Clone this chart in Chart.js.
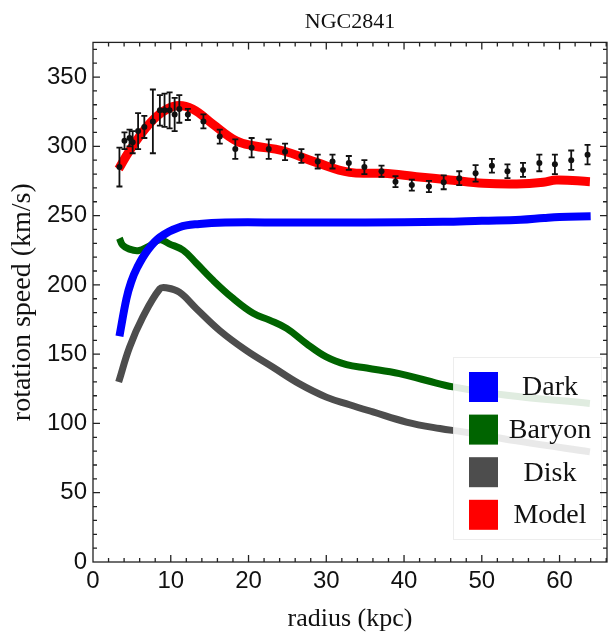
<!DOCTYPE html>
<html>
<head>
<meta charset="utf-8">
<title>NGC2841</title>
<script src="https://cdn.jsdelivr.net/npm/chart.js@4.4.1/dist/chart.umd.min.js"></script>
<style>
    html, body { margin: 0; padding: 0; background: #ffffff; }
    canvas { display: block; }
</style>
</head>
<body>
<canvas id="rotation_chart" width="613" height="635"></canvas>
<script>
// observed rotation speeds with error bars
var point_r = [3.4, 4.05, 4.7, 5.1, 5.8, 6.6, 7.7, 8.6, 9.2, 9.85, 10.5, 11.1, 12.2, 14.2, 16.3, 18.3, 20.4, 22.6, 24.7, 26.8, 28.9, 30.8, 32.9, 34.9, 37.1, 38.9, 41.0, 43.2, 45.1, 47.1, 49.2, 51.3, 53.3, 55.3, 57.4, 59.4, 61.5, 63.6];
var point_v = [285, 304, 306, 303, 311, 314, 318, 326, 326, 326, 323, 327, 323, 318, 307, 298, 299, 298, 296, 293, 289, 289, 288, 285, 282, 274.5, 272, 271, 274, 277, 280.5, 286, 282, 283, 288, 287, 290, 294];
var point_err = [14, 6, 6, 8, 13, 8, 23, 11, 12, 13, 12, 10, 4, 5, 5, 7, 7, 7, 6, 5, 5, 5, 5, 5, 4, 4, 4, 4, 5, 5, 6, 5, 5, 5, 6, 7, 7, 7];

// model curves
var dark_r = [3.4, 4.3, 4.9, 5.7, 7.0, 8.6, 11.1, 13.7, 17, 25, 35, 45, 50, 55, 58, 60, 64];
var dark_v = [163, 190, 202, 212.7, 224.8, 234.4, 241.6, 244, 245, 245, 245, 245.5, 246.3, 247, 248.3, 249, 249.5];

var baryon_r = [3.4, 3.8, 4.6, 5.8, 7.1, 8.6, 9.8, 11.6, 13.3, 15.4, 18.0, 20.6, 22.7, 24.9, 27.4, 30.0, 32.6, 35.2, 39.4, 42.9, 46.3, 53.2, 63.9];
var baryon_v = [233.7, 228.8, 226, 224.7, 227.6, 232.5, 229.6, 225, 215.6, 203.5, 190.3, 179.5, 174.6, 168.6, 157.8, 148, 142.5, 140, 136, 131, 126.4, 120.4, 114.4];

var disk_r = [3.3, 4.7, 6.4, 8.6, 9.4, 11.1, 13.3, 16.3, 19.7, 23.1, 26.5, 30.0, 33, 36.0, 40.3, 44.6, 47.6, 55.3, 63.9];
var disk_v = [129.9, 155, 176.7, 197.2, 197.9, 194.7, 182.8, 167, 152.7, 140.7, 128.7, 119, 113.5, 108.3, 101, 96.3, 93.9, 86.7, 79.5];

var model_r = [3.3, 4.7, 6.85, 8.56, 10.7, 12.8, 15.4, 18.4, 20.6, 24.4, 28.7, 33.0, 37.3, 41.6, 45.9, 50.2, 54.5, 57.9, 59.6, 63.9];
var model_v = [283.6, 296.8, 313.6, 323.3, 329.3, 326.9, 316, 304, 300.4, 296.8, 288.4, 281.2, 280.5, 278.1, 275.7, 273.3, 272.8, 274, 275.7, 274.5];

var legend_labels = ['Dark', 'Baryon', 'Disk', 'Model'];
var legend_colors = ['#0000ff', '#006400', '#4d4d4d', '#ff0000'];

var X_MAX = 66.1;
var Y_MAX = 375;

function to_xy(rs, vs) {
    var out = [];
    for (var i = 0; i < rs.length; i++) {
        out.push({x: rs[i], y: vs[i]});
    }
    return out;
}

function curve(label, rs, vs, color, width, order) {
    return {
        label: label,
        data: to_xy(rs, vs),
        borderColor: color,
        backgroundColor: color,
        borderWidth: width,
        borderCapStyle: 'butt',
        borderJoinStyle: 'round',
        pointRadius: 0,
        tension: 0.4,
        fill: false,
        order: order
    };
}

// error bars for the observed points
var error_bar_plugin = {
    id: 'error_bars',
    afterDatasetsDraw: function(chart) {
        var ctx = chart.ctx;
        var xs = chart.scales.x, ys = chart.scales.y;
        ctx.save();
        ctx.strokeStyle = '#111111';
        ctx.lineWidth = 1.8;
        for (var i = 0; i < point_r.length; i++) {
            var px = xs.getPixelForValue(point_r[i]);
            var top = ys.getPixelForValue(point_v[i] + point_err[i]);
            var bot = ys.getPixelForValue(point_v[i] - point_err[i]);
            ctx.beginPath();
            ctx.moveTo(px, top); ctx.lineTo(px, bot);
            ctx.moveTo(px - 3, top); ctx.lineTo(px + 3, top);
            ctx.moveTo(px - 3, bot); ctx.lineTo(px + 3, bot);
            ctx.stroke();
        }
        ctx.restore();
    }
};

// legend box sitting inside the plot, semi transparent over the curves
var inner_legend_plugin = {
    id: 'inner_legend',
    afterDatasetsDraw: function(chart) {
        var ctx = chart.ctx;
        var area = chart.chartArea;
        var box_w = 149, box_h = 183;
        var bx = area.right - 5 - box_w;
        var by = area.bottom - 22 - box_h;
        ctx.save();
        ctx.fillStyle = 'rgba(255,255,255,0.88)';
        ctx.fillRect(bx, by, box_w, box_h);
        ctx.strokeStyle = 'rgba(0,0,0,0.07)';
        ctx.lineWidth = 1;
        ctx.strokeRect(bx + 0.5, by + 0.5, box_w - 1, box_h - 1);
        ctx.font = '28px "Liberation Serif", "Times New Roman", serif';
        ctx.textAlign = 'center';
        ctx.textBaseline = 'middle';
        for (var i = 0; i < legend_labels.length; i++) {
            var cy = by + 30 + i * 42.6;
            ctx.fillStyle = legend_colors[i];
            ctx.fillRect(bx + 16, cy - 15, 29, 30);
            ctx.fillStyle = '#111111';
            ctx.fillText(legend_labels[i], bx + 97, cy + 1);
        }
        ctx.restore();
    }
};

// Mathematica style frame with inward ticks on all four sides
var frame_plugin = {
    id: 'frame',
    afterDraw: function(chart) {
        var ctx = chart.ctx;
        var area = chart.chartArea;
        var xs = chart.scales.x, ys = chart.scales.y;
        ctx.save();
        ctx.strokeStyle = '#222222';
        ctx.lineWidth = 1.3;
        ctx.strokeRect(area.left, area.top, area.right - area.left, area.bottom - area.top);
        ctx.beginPath();
        for (var r = 2; r < X_MAX; r += 2) {
            var len = (r % 10 === 0) ? 7 : 4;
            var px = xs.getPixelForValue(r);
            ctx.moveTo(px, area.bottom); ctx.lineTo(px, area.bottom - len);
            ctx.moveTo(px, area.top); ctx.lineTo(px, area.top + len);
        }
        for (var v = 10; v < Y_MAX; v += 10) {
            var len2 = (v % 50 === 0) ? 7 : 4;
            var py = ys.getPixelForValue(v);
            ctx.moveTo(area.left, py); ctx.lineTo(area.left + len2, py);
            ctx.moveTo(area.right, py); ctx.lineTo(area.right - len2, py);
        }
        ctx.stroke();
        ctx.restore();
    }
};

var context = document.getElementById('rotation_chart');
var rotation_chart = new Chart(context, {
    type: 'line',
    data: {
        datasets: [
            {
                label: 'data',
                data: to_xy(point_r, point_v),
                showLine: false,
                pointRadius: 3,
                pointBackgroundColor: '#111111',
                pointBorderWidth: 0,
                order: 0
            },
            curve('Model', model_r, model_v, '#ff0000', 9, 1),
            curve('Dark', dark_r, dark_v, '#0000ff', 8, 2),
            curve('Baryon', baryon_r, baryon_v, '#006400', 7, 3),
            curve('Disk', disk_r, disk_v, '#4d4d4d', 7, 4)
        ]
    },
    options: {
        responsive: false,
        animation: false,
        layout: {
            padding: {left: 0, right: 6, top: 0, bottom: 0}
        },
        scales: {
            x: {
                type: 'linear',
                min: 0,
                max: X_MAX,
                grid: { display: false, drawTicks: false },
                border: { display: false },
                ticks: {
                    stepSize: 10,
                    includeBounds: false,
                    padding: 5,
                    color: '#111111',
                    font: { family: '"Liberation Sans", Arial, sans-serif', size: 24 }
                },
                title: {
                    display: true,
                    text: 'radius (kpc)',
                    color: '#111111',
                    padding: { top: 9, bottom: 0 },
                    font: { family: '"Liberation Serif", "Times New Roman", serif', size: 26 }
                },
                afterFit: function(scale) { scale.height = 73; }
            },
            y: {
                min: 0,
                max: Y_MAX,
                grid: { display: false, drawTicks: false },
                border: { display: false },
                ticks: {
                    stepSize: 50,
                    includeBounds: false,
                    padding: 6,
                    color: '#111111',
                    font: { family: '"Liberation Sans", Arial, sans-serif', size: 24 }
                },
                title: {
                    display: true,
                    text: 'rotation speed (km/s)',
                    color: '#111111',
                    padding: { top: 6, bottom: 0 },
                    font: { family: '"Liberation Serif", "Times New Roman", serif', size: 28 }
                },
                afterFit: function(scale) { scale.width = 93; }
            }
        },
        plugins: {
            legend: { display: false },
            tooltip: { enabled: false },
            title: {
                display: true,
                text: 'NGC2841',
                fullSize: false,
                color: '#111111',
                padding: { top: 9, bottom: 7 },
                font: { family: '"Liberation Serif", "Times New Roman", serif', size: 22, weight: 'normal' }
            }
        }
    },
    plugins: [error_bar_plugin, inner_legend_plugin, frame_plugin]
});
</script>
</body>
</html>
